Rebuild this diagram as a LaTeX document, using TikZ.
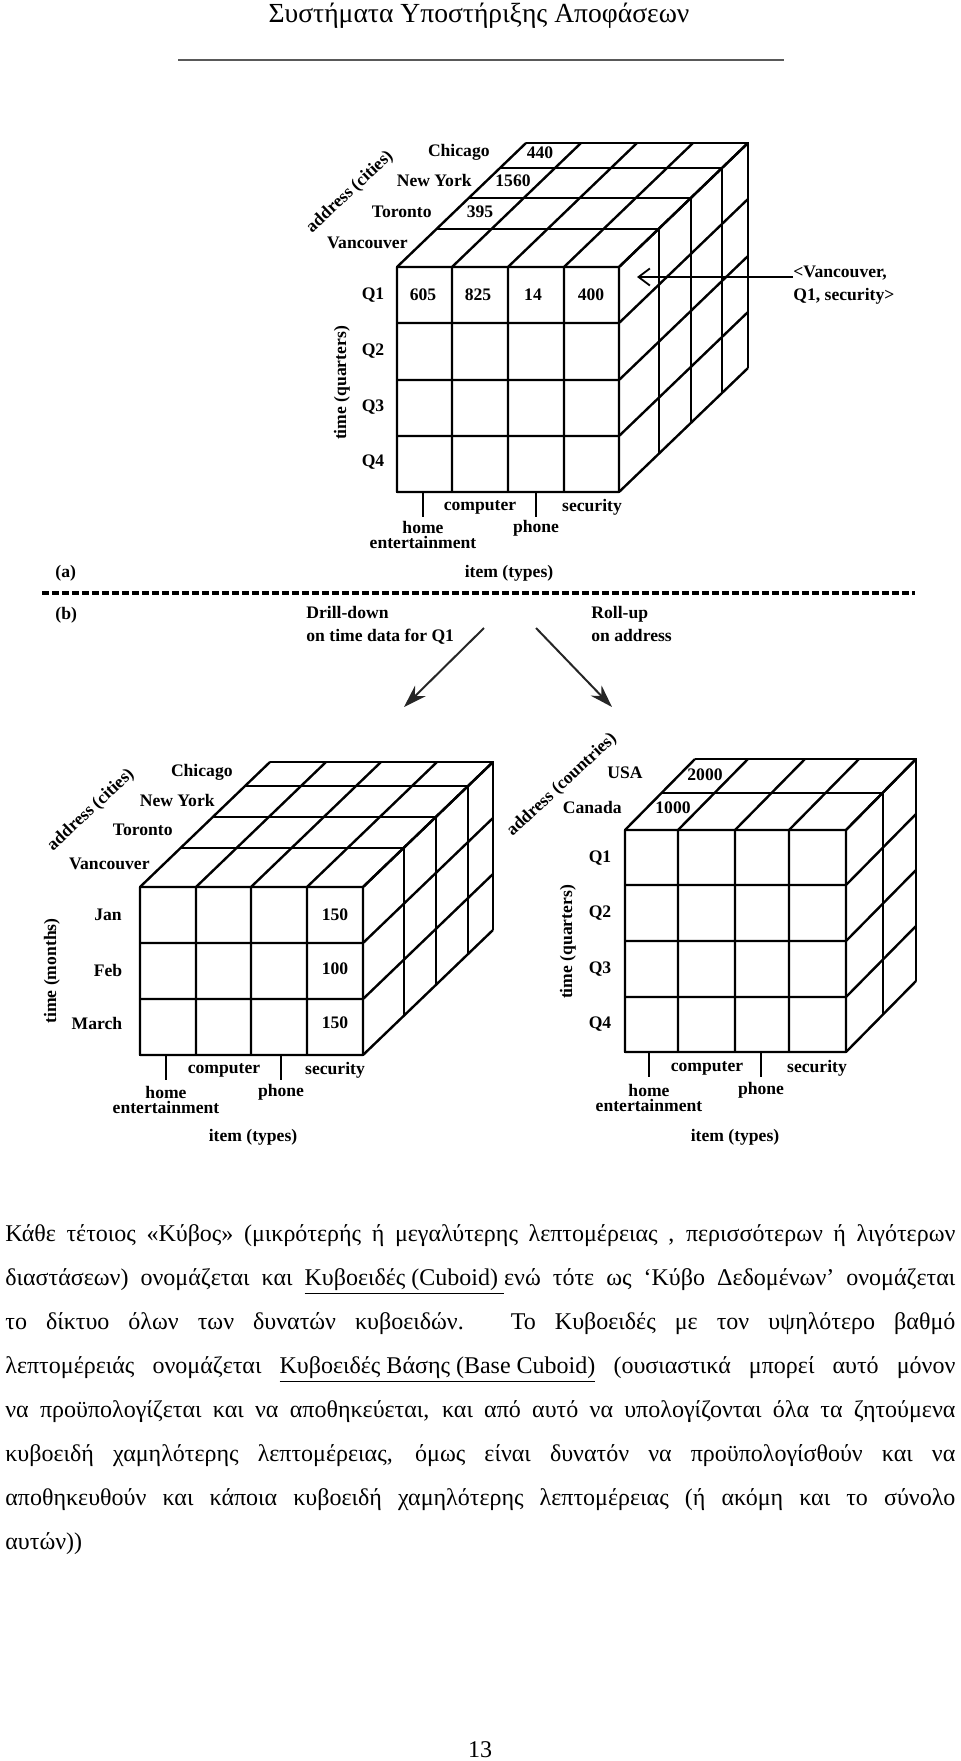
\documentclass[tikz,border=0pt]{standalone}
\usepackage{fontspec}
\setmainfont{Liberation Serif}
\usepackage{tikz}
\usetikzlibrary{arrows.meta,positioning,calc}

% cube: x0, x1, y0, y1, verticals, horizontals, depth layers, total dx, total dy
\newcommand{\cube}[9]{%
  \draw[cubeline] (#1,#3) rectangle (#2,#4);
  \foreach \cx in {#5} \draw[cubeline] (\cx,#3) -- (\cx,#4) (\cx,#3) -- ++(#8,#9);
  \foreach \cy in {#6} \draw[cubeline] (#1,\cy) -- (#2,\cy) (#2,\cy) -- ++(#8,#9);
  \foreach \dx/\dy in {#7} \draw[cubeline] (#1+\dx,#3+\dy) -- (#2+\dx,#3+\dy) -- (#2+\dx,#4+\dy);
}

\begin{document}
\begin{tikzpicture}[
    x=0.5pt, y=-0.5pt,
    cubeline/.style={line width=1.2pt},
    lbl/.style={font=\fontsize{8.8}{7.6}\selectfont\bfseries, inner sep=0pt, align=center},
    op/.style={font=\fontsize{8.8}{11.5}\selectfont\bfseries, inner sep=0pt, align=left, anchor=north west},
    axis/.style={lbl, rotate=#1},
    tick/.style={line width=1pt},
    arr/.style={-{Stealth[length=4mm, width=2.6mm]}, line width=1pt, black!85},
    ptr/.style={-{Straight Barb[length=2mm, width=3mm]}, line width=0.9pt},
    body/.style={font=\fontsize{12}{14}\selectfont, inner sep=0pt, anchor=base west}
]
\useasboundingbox (0,0) rectangle (960,1761);

% Page header
\node[font=\fontsize{13.8}{16}\selectfont, inner sep=0pt] (head) at (479,16) {Συστήματα Υποστήριξης Αποφάσεων};
\coordinate (hl) at (178,60);
\coordinate (hr) at (784,60);
\draw[line width=1.1pt, black!65] (hl) -- (hr);

% Cube (a)
\cube{397}{619}{267}{492}{397,452,508,564,619}{267,323,380,436,492}{40/-38,72/-69,103/-99,129/-124}{129}{-124}
\node[lbl, anchor=east] (chi) at (490,152) {Chicago};
\node[lbl, anchor=east] (ny) at (472,180) {New York};
\node[lbl, anchor=east] (tor) at (432,212) {Toronto};
\node[lbl, anchor=east] (van) at (408,243) {Vancouver};
\node[axis=43] (addr) at (350,192) {address (cities)};
\node[lbl] (v440) at (540,153) {440};
\node[lbl] (v1560) at (513,181) {1560};
\node[lbl] (v395) at (480,212) {395};
\node[lbl] (v605) at (423,295) {605};
\node[lbl] (v825) at (478,295) {825};
\node[lbl] (v14) at (533,295) {14};
\node[lbl] (v400) at (591,295) {400};
\node[lbl] (q1) at (373,295) {Q1};
\node[lbl] (q2) at (373,351) {Q2};
\node[lbl] (q3) at (373,407) {Q3};
\node[lbl] (q4) at (373,462) {Q4};
\node[axis=90] (tq) at (342,383) {time (quarters)};
\coordinate (ta1) at (423,492);
\coordinate (ta2) at (536,492);
\draw[tick] (ta1) -- ++(0,25);
\draw[tick] (ta2) -- ++(0,25);
\node[lbl] (comp) at (480,507) {computer};
\node[lbl] (sec) at (592,507) {security};
\node[lbl] (home) at (423,535) {home\\entertainment};
\node[lbl] (phone) at (536,528) {phone};
\node[lbl] (item) at (509,573) {item (types)};
\coordinate (cell) at (637,277);
\node[op] (vqs) at (793,266) {<Vancouver,\\Q1, security>};
\draw[ptr] (vqs.west |- cell) -- (cell);

% Separator
\node[lbl, anchor=west] (pa) at (55,573) {(a)};
\node[lbl, anchor=west] (pb) at (55,615) {(b)};
\coordinate (dl) at (42,593);
\coordinate (dr) at (915,593);
\draw[line width=1.6pt, dash pattern=on 3.5pt off 1.5pt] (dl) -- (dr);

% Operations
\node[op] (drill) at (306,606) {Drill-down\\on time data for Q1};
\node[op] (roll) at (591,606) {Roll-up\\on address};
\coordinate (ds) at (484,628);
\coordinate (de) at (404,707);
\coordinate (rs) at (536,628);
\coordinate (re) at (612,707);
\draw[arr] (ds) -- (de);
\draw[arr] (rs) -- (re);

% Cube (b) left: drill-down
\cube{140}{363}{887}{1055}{140,196,251,307,363}{887,943,999,1055}{41/-39,73/-70,105/-101,130/-125}{130}{-125}
\node[lbl, anchor=east] (chi2) at (233,772) {Chicago};
\node[lbl, anchor=east] (ny2) at (215,800) {New York};
\node[lbl, anchor=east] (tor2) at (173,830) {Toronto};
\node[lbl, anchor=east] (van2) at (150,864) {Vancouver};
\node[axis=43] (addr2) at (91,810) {address (cities)};
\node[lbl] (jan) at (108,915) {Jan};
\node[lbl] (feb) at (108,970) {Feb};
\node[lbl] (mar) at (97,1023) {March};
\node[axis=90] (tm) at (52,971) {time (months)};
\node[lbl] (v150a) at (335,915) {150};
\node[lbl] (v100) at (335,969) {100};
\node[lbl] (v150b) at (335,1023) {150};
\coordinate (tb1) at (166,1055);
\coordinate (tb2) at (281,1055);
\draw[tick] (tb1) -- ++(0,25);
\draw[tick] (tb2) -- ++(0,25);
\node[lbl] (comp2) at (224,1070) {computer};
\node[lbl] (sec2) at (335,1070) {security};
\node[lbl] (home2) at (166,1100) {home\\entertainment};
\node[lbl] (phone2) at (281,1092) {phone};
\node[lbl] (item2) at (253,1137) {item (types)};

% Cube (b) right: roll-up
\cube{625}{846}{830}{1052}{625,678,735,789,846}{830,885,941,997,1052}{37/-37,70/-71}{70}{-71}
\node[lbl, anchor=east] (usa) at (643,773) {USA};
\node[lbl, anchor=east] (can) at (622,807) {Canada};
\node[axis=43] (addr3) at (562,785) {address (countries)};
\node[lbl] (v2000) at (705,775) {2000};
\node[lbl] (v1000) at (673,808) {1000};
\node[lbl] (q1r) at (600,858) {Q1};
\node[lbl] (q2r) at (600,913) {Q2};
\node[lbl] (q3r) at (600,969) {Q3};
\node[lbl] (q4r) at (600,1024) {Q4};
\node[axis=90] (tq3) at (568,942) {time (quarters)};
\coordinate (tc1) at (649,1052);
\coordinate (tc2) at (761,1052);
\draw[tick] (tc1) -- ++(0,25);
\draw[tick] (tc2) -- ++(0,25);
\node[lbl] (comp3) at (707,1068) {computer};
\node[lbl] (sec3) at (817,1068) {security};
\node[lbl] (home3) at (649,1098) {home\\entertainment};
\node[lbl] (phone3) at (761,1090) {phone};
\node[lbl] (item3) at (735,1137) {item (types)};

% Text
\node[body] (l1) at (5,1241) {\makebox[475pt][s]{Κάθε τέτοιος «Κύβος» (μικρότερής ή μεγαλύτερης λεπτομέρειας , περισσότερων ή λιγότερων}};
\node[body] (l2) at (5,1285) {\makebox[475pt][s]{διαστάσεων) ονομάζεται και \underline{Κυβοειδές (Cuboid)\ }ενώ τότε ως ‘Κύβο Δεδομένων’ ονομάζεται}};
\node[body] (l3) at (5,1329) {\makebox[475pt][s]{το δίκτυο όλων των δυνατών κυβοειδών. Το Κυβοειδές με τον υψηλότερο βαθμό}};
\node[body] (l4) at (5,1373) {\makebox[475pt][s]{λεπτομέρειάς ονομάζεται \underline{Κυβοειδές Βάσης (Base Cuboid)} (ουσιαστικά μπορεί αυτό μόνον}};
\node[body] (l5) at (5,1417) {\makebox[475pt][s]{να προϋπολογίζεται και να αποθηκεύεται, και από αυτό να υπολογίζονται όλα τα ζητούμενα}};
\node[body] (l6) at (5,1461) {\makebox[475pt][s]{κυβοειδή χαμηλότερης λεπτομέρειας, όμως είναι δυνατόν να προϋπολογίσθούν και να}};
\node[body] (l7) at (5,1505) {\makebox[475pt][s]{αποθηκευθούν και κάποια κυβοειδή χαμηλότερης λεπτομέρειας (ή ακόμη και το σύνολο}};
\node[body] (l8) at (5,1549) {αυτών))};

% Page number
\node[font=\fontsize{12}{14}\selectfont, inner sep=0pt] (pg) at (480,1750) {13};
\end{tikzpicture}
\end{document}
